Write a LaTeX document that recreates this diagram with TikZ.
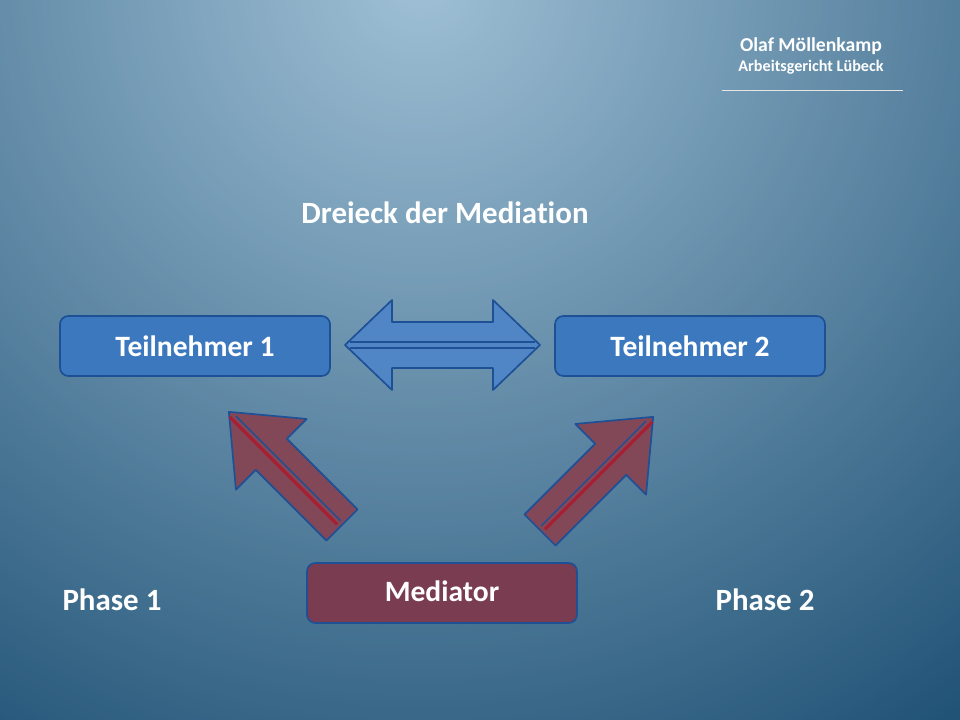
\documentclass[tikz,border=0pt]{standalone}
\usepackage{fontspec}
\setmainfont[Ligatures={NoCommon}]{Carlito}
\begin{document}
\begin{tikzpicture}[x=0.025cm,y=-0.025cm,
  box/.style={draw=boxline,line width=1.2pt,rounded corners=6pt,minimum width=6.75cm,minimum height=1.5cm,text=white,font=\bfseries\fontsize{21}{24}\selectfont},
  lbl/.style={text=white,font=\bfseries\fontsize{22}{26}\selectfont},
  bigarrow/.style={fill=marrow,draw=boxline,line width=1.2pt,line join=round}]
\definecolor{bgtop}{RGB}{190,215,232}
\definecolor{bgmid}{RGB}{70,125,160}
\definecolor{bgbot}{RGB}{8,58,95}
\definecolor{boxblue}{RGB}{60,120,190}
\definecolor{boxline}{RGB}{30,80,150}
\definecolor{marrow}{RGB}{130,72,88}
\definecolor{mbox}{RGB}{122,60,80}
\definecolor{redline}{RGB}{170,30,50}
\useasboundingbox (0,0) rectangle (960,720);
\begin{scope}
\clip (0,0) rectangle (960,720);
\shade[inner color=bgtop,outer color=bgbot] (420,-20) circle (980);
\fill[bgmid,opacity=0.25] (0,0) rectangle (960,720);
\end{scope}
% header
\node[text=white,font=\bfseries\fontsize{14}{16}\selectfont] (h1) at (811,46) {Olaf Möllenkamp};
\node[text=white,font=\bfseries\fontsize{11.5}{13}\selectfont] (h2) at (811,67) {Arbeitsgericht Lübeck};
\draw[white!80!gray,line width=0.4pt] (722,90) -- (903,90);
\node[lbl] (title) at (445,213) {Dreieck der Mediation};
% boxes
\node[box,fill=boxblue] (t1) at (195,346) {Teilnehmer 1};
\node[box,fill=boxblue] (t2) at (690,346) {Teilnehmer 2};
\node[box,fill=mbox] (m) at (442,593) {\raisebox{3pt}{Mediator}};
% double arrow
\fill[boxblue!90!white,draw=boxline,line width=1.2pt,line join=round]
 (345,345) -- (392,300) -- (392,322) -- (493,322) -- (493,300) -- (540,345)
 -- (493,390) -- (493,368) -- (392,368) -- (392,390) -- cycle;
\draw[boxline,line width=1pt] (350,342) -- (535,342);
\draw[boxline,line width=1pt] (350,348) -- (535,348);
% diagonal arrows
\begin{scope}[shift={(342,525)},rotate=135]
\path[bigarrow] (0,-22) -- (100,-22) -- (100,-50) -- (160,0) -- (100,50) -- (100,22) -- (0,22) -- cycle;
\draw[redline,line width=2.2pt] (4,-3) -- (156,-3);
\draw[boxline,line width=1pt] (4,2) -- (152,2);
\end{scope}
\begin{scope}[shift={(540,530)},rotate=45]
\path[bigarrow] (0,-22) -- (100,-22) -- (100,-50) -- (160,0) -- (100,50) -- (100,22) -- (0,22) -- cycle;
\draw[redline,line width=2.2pt] (4,3) -- (156,3);
\draw[boxline,line width=1pt] (4,-2) -- (152,-2);
\end{scope}
\node[lbl] (p1) at (112,600) {Phase 1};
\node[lbl] (p2) at (765,600) {Phase 2};
\end{tikzpicture}
\end{document}
